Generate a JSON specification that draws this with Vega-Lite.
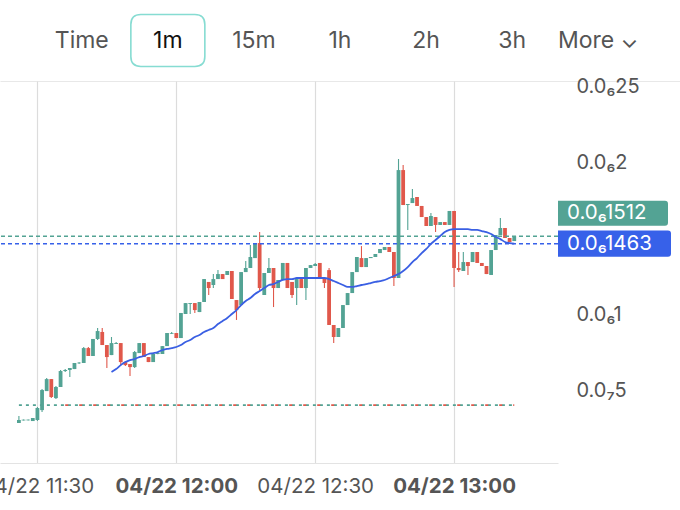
{
  "$schema": "https://vega.github.io/schema/vega-lite/v6.json",
  "autosize": {"type": "none"},
  "padding": {"left": 0, "top": 0, "right": 680, "bottom": 510},
  "background": "white",
  "config": {"font": "Inter", "view": {"stroke": null}},
  "spacing": 0,
  "bounds": "flush",
  "datasets": {
    "buttons": [
      {"label": "Time"}, {"label": "1m"}, {"label": "15m"}, {"label": "1h"},
      {"label": "2h"}, {"label": "3h"}, {"label": "More ⌄"}
    ],
    "levels": [
      {"name": "last", "price": 1.512, "label": "0.0₆1512"},
      {"name": "ma", "price": 1.463, "label": "0.0₆1463"}
    ],
    "baseline": [
      {"start": "2024-04-22T11:26", "end": "2024-04-22T13:13", "redstart": "2024-04-22T11:36", "price": 0.401}
    ],
    "candles": [
      {"t": "2024-04-22T11:26", "o": 0.283, "h": 0.329, "l": 0.283, "c": 0.303},
      {"t": "2024-04-22T11:27", "o": 0.300, "h": 0.306, "l": 0.300, "c": 0.305},
      {"t": "2024-04-22T11:28", "o": 0.301, "h": 0.306, "l": 0.300, "c": 0.305},
      {"t": "2024-04-22T11:29", "o": 0.296, "h": 0.316, "l": 0.296, "c": 0.316},
      {"t": "2024-04-22T11:30", "o": 0.303, "h": 0.388, "l": 0.296, "c": 0.382},
      {"t": "2024-04-22T11:31", "o": 0.368, "h": 0.507, "l": 0.355, "c": 0.500},
      {"t": "2024-04-22T11:32", "o": 0.493, "h": 0.579, "l": 0.493, "c": 0.572},
      {"t": "2024-04-22T11:33", "o": 0.572, "h": 0.572, "l": 0.447, "c": 0.454},
      {"t": "2024-04-22T11:34", "o": 0.447, "h": 0.526, "l": 0.441, "c": 0.520},
      {"t": "2024-04-22T11:35", "o": 0.520, "h": 0.632, "l": 0.520, "c": 0.625},
      {"t": "2024-04-22T11:36", "o": 0.625, "h": 0.638, "l": 0.618, "c": 0.632},
      {"t": "2024-04-22T11:37", "o": 0.632, "h": 0.645, "l": 0.586, "c": 0.645},
      {"t": "2024-04-22T11:38", "o": 0.638, "h": 0.678, "l": 0.638, "c": 0.678},
      {"t": "2024-04-22T11:39", "o": 0.676, "h": 0.684, "l": 0.671, "c": 0.680},
      {"t": "2024-04-22T11:40", "o": 0.678, "h": 0.783, "l": 0.678, "c": 0.776},
      {"t": "2024-04-22T11:41", "o": 0.776, "h": 0.783, "l": 0.724, "c": 0.724},
      {"t": "2024-04-22T11:42", "o": 0.724, "h": 0.836, "l": 0.724, "c": 0.836},
      {"t": "2024-04-22T11:43", "o": 0.836, "h": 0.908, "l": 0.829, "c": 0.888},
      {"t": "2024-04-22T11:44", "o": 0.882, "h": 0.908, "l": 0.796, "c": 0.796},
      {"t": "2024-04-22T11:45", "o": 0.796, "h": 0.796, "l": 0.645, "c": 0.717},
      {"t": "2024-04-22T11:46", "o": 0.730, "h": 0.849, "l": 0.730, "c": 0.809, "ma": 0.618},
      {"t": "2024-04-22T11:47", "o": 0.803, "h": 0.816, "l": 0.803, "c": 0.809, "ma": 0.638},
      {"t": "2024-04-22T11:48", "o": 0.809, "h": 0.809, "l": 0.664, "c": 0.684, "ma": 0.664},
      {"t": "2024-04-22T11:49", "o": 0.684, "h": 0.691, "l": 0.658, "c": 0.664, "ma": 0.684},
      {"t": "2024-04-22T11:50", "o": 0.671, "h": 0.671, "l": 0.592, "c": 0.651, "ma": 0.697},
      {"t": "2024-04-22T11:51", "o": 0.651, "h": 0.757, "l": 0.645, "c": 0.750, "ma": 0.704},
      {"t": "2024-04-22T11:52", "o": 0.743, "h": 0.809, "l": 0.743, "c": 0.809, "ma": 0.717},
      {"t": "2024-04-22T11:53", "o": 0.809, "h": 0.809, "l": 0.717, "c": 0.717, "ma": 0.724},
      {"t": "2024-04-22T11:54", "o": 0.717, "h": 0.717, "l": 0.684, "c": 0.684, "ma": 0.737},
      {"t": "2024-04-22T11:55", "o": 0.684, "h": 0.737, "l": 0.684, "c": 0.737, "ma": 0.743},
      {"t": "2024-04-22T11:56", "o": 0.737, "h": 0.745, "l": 0.735, "c": 0.743, "ma": 0.750},
      {"t": "2024-04-22T11:57", "o": 0.737, "h": 0.789, "l": 0.737, "c": 0.789, "ma": 0.763},
      {"t": "2024-04-22T11:58", "o": 0.789, "h": 0.875, "l": 0.789, "c": 0.875, "ma": 0.770},
      {"t": "2024-04-22T11:59", "o": 0.870, "h": 0.882, "l": 0.868, "c": 0.875, "ma": 0.776},
      {"t": "2024-04-22T12:00", "o": 0.875, "h": 0.875, "l": 0.842, "c": 0.842, "ma": 0.783},
      {"t": "2024-04-22T12:01", "o": 0.842, "h": 1.007, "l": 0.842, "c": 1.007, "ma": 0.796},
      {"t": "2024-04-22T12:02", "o": 1.000, "h": 1.072, "l": 1.000, "c": 1.072, "ma": 0.816},
      {"t": "2024-04-22T12:03", "o": 1.066, "h": 1.072, "l": 1.000, "c": 1.072, "ma": 0.829},
      {"t": "2024-04-22T12:04", "o": 1.072, "h": 1.072, "l": 1.007, "c": 1.026, "ma": 0.849},
      {"t": "2024-04-22T12:05", "o": 1.013, "h": 1.079, "l": 1.013, "c": 1.079, "ma": 0.862},
      {"t": "2024-04-22T12:06", "o": 1.079, "h": 1.230, "l": 1.079, "c": 1.230, "ma": 0.882},
      {"t": "2024-04-22T12:07", "o": 1.211, "h": 1.211, "l": 1.125, "c": 1.171, "ma": 0.895},
      {"t": "2024-04-22T12:08", "o": 1.191, "h": 1.263, "l": 1.171, "c": 1.230, "ma": 0.908},
      {"t": "2024-04-22T12:09", "o": 1.230, "h": 1.289, "l": 1.230, "c": 1.263, "ma": 0.934},
      {"t": "2024-04-22T12:10", "o": 1.263, "h": 1.263, "l": 1.230, "c": 1.230, "ma": 0.954},
      {"t": "2024-04-22T12:11", "o": 1.257, "h": 1.283, "l": 1.257, "c": 1.283, "ma": 0.974},
      {"t": "2024-04-22T12:12", "o": 1.283, "h": 1.283, "l": 1.099, "c": 1.099, "ma": 1.000},
      {"t": "2024-04-22T12:13", "o": 1.092, "h": 1.092, "l": 0.961, "c": 1.026, "ma": 1.026},
      {"t": "2024-04-22T12:14", "o": 1.059, "h": 1.276, "l": 1.059, "c": 1.276, "ma": 1.059},
      {"t": "2024-04-22T12:15", "o": 1.276, "h": 1.349, "l": 1.276, "c": 1.303, "ma": 1.086},
      {"t": "2024-04-22T12:16", "o": 1.303, "h": 1.454, "l": 1.303, "c": 1.375, "ma": 1.105},
      {"t": "2024-04-22T12:17", "o": 1.368, "h": 1.467, "l": 1.368, "c": 1.467, "ma": 1.132},
      {"t": "2024-04-22T12:18", "o": 1.467, "h": 1.539, "l": 1.158, "c": 1.171, "ma": 1.151},
      {"t": "2024-04-22T12:19", "o": 1.125, "h": 1.270, "l": 1.125, "c": 1.270, "ma": 1.171},
      {"t": "2024-04-22T12:20", "o": 1.270, "h": 1.368, "l": 1.270, "c": 1.303, "ma": 1.191},
      {"t": "2024-04-22T12:21", "o": 1.303, "h": 1.303, "l": 1.046, "c": 1.171, "ma": 1.197},
      {"t": "2024-04-22T12:22", "o": 1.171, "h": 1.224, "l": 1.171, "c": 1.224, "ma": 1.211},
      {"t": "2024-04-22T12:23", "o": 1.224, "h": 1.336, "l": 1.224, "c": 1.336, "ma": 1.224},
      {"t": "2024-04-22T12:24", "o": 1.336, "h": 1.336, "l": 1.171, "c": 1.171, "ma": 1.230},
      {"t": "2024-04-22T12:25", "o": 1.211, "h": 1.211, "l": 1.105, "c": 1.125, "ma": 1.230},
      {"t": "2024-04-22T12:26", "o": 1.171, "h": 1.230, "l": 1.059, "c": 1.230, "ma": 1.237},
      {"t": "2024-04-22T12:27", "o": 1.230, "h": 1.230, "l": 1.171, "c": 1.171, "ma": 1.237},
      {"t": "2024-04-22T12:28", "o": 1.171, "h": 1.303, "l": 1.092, "c": 1.303, "ma": 1.237},
      {"t": "2024-04-22T12:29", "o": 1.303, "h": 1.322, "l": 1.303, "c": 1.322, "ma": 1.237},
      {"t": "2024-04-22T12:30", "o": 1.316, "h": 1.336, "l": 1.316, "c": 1.329, "ma": 1.237},
      {"t": "2024-04-22T12:31", "o": 1.336, "h": 1.336, "l": 1.237, "c": 1.237, "ma": 1.237},
      {"t": "2024-04-22T12:32", "o": 1.237, "h": 1.237, "l": 1.171, "c": 1.204, "ma": 1.237},
      {"t": "2024-04-22T12:33", "o": 1.289, "h": 1.303, "l": 0.928, "c": 0.928, "ma": 1.230},
      {"t": "2024-04-22T12:34", "o": 0.928, "h": 0.928, "l": 0.809, "c": 0.849, "ma": 1.217},
      {"t": "2024-04-22T12:35", "o": 0.849, "h": 0.908, "l": 0.849, "c": 0.908, "ma": 1.204},
      {"t": "2024-04-22T12:36", "o": 0.908, "h": 1.059, "l": 0.908, "c": 1.059, "ma": 1.191},
      {"t": "2024-04-22T12:37", "o": 1.059, "h": 1.138, "l": 1.059, "c": 1.138, "ma": 1.178},
      {"t": "2024-04-22T12:38", "o": 1.138, "h": 1.276, "l": 1.138, "c": 1.276, "ma": 1.178},
      {"t": "2024-04-22T12:39", "o": 1.276, "h": 1.375, "l": 1.276, "c": 1.375, "ma": 1.184},
      {"t": "2024-04-22T12:40", "o": 1.368, "h": 1.447, "l": 1.309, "c": 1.309, "ma": 1.191},
      {"t": "2024-04-22T12:41", "o": 1.309, "h": 1.368, "l": 1.309, "c": 1.368, "ma": 1.197},
      {"t": "2024-04-22T12:42", "o": 1.368, "h": 1.375, "l": 1.368, "c": 1.375, "ma": 1.204},
      {"t": "2024-04-22T12:43", "o": 1.375, "h": 1.395, "l": 1.375, "c": 1.395, "ma": 1.211},
      {"t": "2024-04-22T12:44", "o": 1.401, "h": 1.428, "l": 1.401, "c": 1.428, "ma": 1.217},
      {"t": "2024-04-22T12:45", "o": 1.421, "h": 1.441, "l": 1.421, "c": 1.441, "ma": 1.224},
      {"t": "2024-04-22T12:46", "o": 1.441, "h": 1.441, "l": 1.408, "c": 1.408, "ma": 1.237},
      {"t": "2024-04-22T12:47", "o": 1.408, "h": 1.408, "l": 1.184, "c": 1.237, "ma": 1.250},
      {"t": "2024-04-22T12:48", "o": 1.237, "h": 2.020, "l": 1.237, "c": 1.947, "ma": 1.263},
      {"t": "2024-04-22T12:49", "o": 1.947, "h": 1.980, "l": 1.717, "c": 1.717, "ma": 1.283},
      {"t": "2024-04-22T12:50", "o": 1.717, "h": 1.724, "l": 1.553, "c": 1.724, "ma": 1.309},
      {"t": "2024-04-22T12:51", "o": 1.730, "h": 1.822, "l": 1.730, "c": 1.763, "ma": 1.342},
      {"t": "2024-04-22T12:52", "o": 1.770, "h": 1.770, "l": 1.711, "c": 1.711, "ma": 1.368},
      {"t": "2024-04-22T12:53", "o": 1.711, "h": 1.711, "l": 1.638, "c": 1.638, "ma": 1.401},
      {"t": "2024-04-22T12:54", "o": 1.638, "h": 1.638, "l": 1.579, "c": 1.579, "ma": 1.428},
      {"t": "2024-04-22T12:55", "o": 1.579, "h": 1.664, "l": 1.579, "c": 1.645, "ma": 1.461},
      {"t": "2024-04-22T12:56", "o": 1.638, "h": 1.638, "l": 1.539, "c": 1.586, "ma": 1.487},
      {"t": "2024-04-22T12:57", "o": 1.586, "h": 1.605, "l": 1.586, "c": 1.605, "ma": 1.513},
      {"t": "2024-04-22T12:58", "o": 1.605, "h": 1.605, "l": 1.586, "c": 1.586, "ma": 1.539},
      {"t": "2024-04-22T12:59", "o": 1.586, "h": 1.678, "l": 1.586, "c": 1.678, "ma": 1.553},
      {"t": "2024-04-22T13:00", "o": 1.678, "h": 1.678, "l": 1.178, "c": 1.303, "ma": 1.559},
      {"t": "2024-04-22T13:01", "o": 1.303, "h": 1.408, "l": 1.276, "c": 1.289, "ma": 1.559},
      {"t": "2024-04-22T13:02", "o": 1.283, "h": 1.408, "l": 1.283, "c": 1.342, "ma": 1.559},
      {"t": "2024-04-22T13:03", "o": 1.342, "h": 1.342, "l": 1.257, "c": 1.316, "ma": 1.559},
      {"t": "2024-04-22T13:04", "o": 1.342, "h": 1.408, "l": 1.342, "c": 1.408, "ma": 1.553},
      {"t": "2024-04-22T13:05", "o": 1.408, "h": 1.408, "l": 1.336, "c": 1.336, "ma": 1.553},
      {"t": "2024-04-22T13:06", "o": 1.336, "h": 1.336, "l": 1.316, "c": 1.316, "ma": 1.546},
      {"t": "2024-04-22T13:07", "o": 1.316, "h": 1.316, "l": 1.263, "c": 1.263, "ma": 1.539},
      {"t": "2024-04-22T13:08", "o": 1.257, "h": 1.421, "l": 1.257, "c": 1.421, "ma": 1.526},
      {"t": "2024-04-22T13:09", "o": 1.421, "h": 1.520, "l": 1.421, "c": 1.520, "ma": 1.507},
      {"t": "2024-04-22T13:10", "o": 1.520, "h": 1.632, "l": 1.520, "c": 1.566, "ma": 1.493},
      {"t": "2024-04-22T13:11", "o": 1.566, "h": 1.566, "l": 1.500, "c": 1.500, "ma": 1.474},
      {"t": "2024-04-22T13:12", "o": 1.500, "h": 1.500, "l": 1.474, "c": 1.474, "ma": 1.467},
      {"t": "2024-04-22T13:13", "o": 1.480, "h": 1.512, "l": 1.480, "c": 1.512, "ma": 1.463}
    ]
  },
  "vconcat": [
    {
      "width": 680,
      "height": 81,
      "data": {"name": "buttons"},
      "encoding": {
        "x": {
          "field": "label",
          "type": "nominal",
          "sort": null,
          "scale": {"type": "point", "padding": 0.95, "domain": ["Time", "1m", "15m", "1h", "2h", "3h", "More ⌄"]},
          "axis": {"labels": false, "ticks": false, "title": null, "domainColor": "#e8e8e8", "domainWidth": 1.2}
        }
      },
      "layer": [
        {
          "transform": [{"filter": "datum.label === '1m'"}],
          "mark": {
            "type": "point",
            "shape": "M-0.73,-0.703 L0.73,-0.703 Q1,-0.703 1,-0.433 L1,0.433 Q1,0.703 0.73,0.703 L-0.73,0.703 Q-1,0.703 -1,0.433 L-1,-0.433 Q-1,-0.703 -0.73,-0.703 Z",
            "size": 5476,
            "filled": false,
            "stroke": "#86dcd2",
            "strokeWidth": 1.6,
            "opacity": 1
          }
        },
        {
          "mark": {"type": "text", "fontSize": 23, "baseline": "middle"},
          "encoding": {
            "text": {"field": "label"},
            "color": {"condition": {"test": "datum.label === '1m'", "value": "#111111"}, "value": "#555555"}
          }
        }
      ]
    },
    {
      "width": 558,
      "height": 382,
      "layer": [
        {
          "data": {"name": "candles"},
          "mark": {"type": "rule", "strokeWidth": 1.1},
          "encoding": {
            "x": {
              "field": "t",
              "type": "temporal",
              "title": null,
              "scale": {
                "domain": [
                  {"year": 2024, "month": 4, "date": 22, "hours": 11, "minutes": 21, "seconds": 55},
                  {"year": 2024, "month": 4, "date": 22, "hours": 13, "minutes": 22, "seconds": 27}
                ],
                "nice": false,
                "padding": 0
              },
              "axis": {
                "values": [
                  {"year": 2024, "month": 4, "date": 22, "hours": 11, "minutes": 30},
                  {"year": 2024, "month": 4, "date": 22, "hours": 12, "minutes": 0},
                  {"year": 2024, "month": 4, "date": 22, "hours": 12, "minutes": 30},
                  {"year": 2024, "month": 4, "date": 22, "hours": 13, "minutes": 0}
                ],
                "labelExpr": "timeFormat(datum.value, '%m/%d %H:%M')",
                "labelFontWeight": {"condition": {"test": "minutes(datum.value) === 0", "value": "bold"}, "value": "normal"},
                "grid": true,
                "gridColor": "#dcdcdc",
                "gridWidth": 1.2,
                "ticks": false,
                "domainColor": "#e3e3e3",
                "labelPadding": 13,
                "labelFontSize": 20.5,
                "labelColor": "#555555",
                "labelFlush": false,
                "labelOverlap": false
              }
            },
            "y": {
              "field": "l",
              "type": "quantitative",
              "title": null,
              "scale": {"domain": [0.02, 2.533], "nice": false, "zero": false, "padding": 0},
              "axis": {
                "orient": "right",
                "values": [0.5, 1, 2, 2.5],
                "labelExpr": "datum.value >= 1 ? '0.0₆' + replace(toString(datum.value), '.', '') : '0.0₇' + toString(round(datum.value * 10))",
                "grid": false,
                "ticks": false,
                "domain": false,
                "labelPadding": 18,
                "labelFontSize": 20,
                "labelColor": "#555555",
                "labelAlign": "left"
              }
            },
            "y2": {"field": "h"},
            "color": {"condition": {"test": "datum.c >= datum.o", "value": "#53a394"}, "value": "#e0584b"}
          }
        },
        {
          "data": {"name": "candles"},
          "mark": {"type": "bar", "width": 3.8},
          "encoding": {
            "x": {"field": "t", "type": "temporal", "title": null},
            "y": {"field": "o", "type": "quantitative", "title": null},
            "y2": {"field": "c"},
            "color": {"condition": {"test": "datum.c >= datum.o", "value": "#53a394"}, "value": "#e0584b"}
          }
        },
        {
          "data": {"name": "levels"},
          "mark": {"type": "rule", "strokeDash": [4, 3], "strokeWidth": 1.5},
          "encoding": {
            "y": {"field": "price", "type": "quantitative", "title": null},
            "color": {"condition": {"test": "datum.name === 'last'", "value": "#53a394"}, "value": "#3761e9"}
          }
        },
        {
          "data": {"name": "baseline"},
          "mark": {"type": "rule", "strokeDash": [3, 4], "strokeWidth": 1.6, "color": "#53a394"},
          "encoding": {
            "x": {"field": "start", "type": "temporal", "title": null},
            "x2": {"field": "end"},
            "y": {"field": "price", "type": "quantitative", "title": null}
          }
        },
        {
          "data": {"name": "baseline"},
          "mark": {"type": "rule", "strokeDash": [3, 11], "strokeWidth": 1.6, "color": "#e0584b"},
          "encoding": {
            "x": {"field": "redstart", "type": "temporal", "title": null},
            "x2": {"field": "end"},
            "y": {"field": "price", "type": "quantitative", "title": null}
          }
        },
        {
          "data": {"name": "candles"},
          "transform": [{"filter": "isValid(datum.ma)"}],
          "mark": {"type": "line", "color": "#3a5fe3", "strokeWidth": 1.8, "interpolate": "monotone"},
          "encoding": {
            "x": {"field": "t", "type": "temporal", "title": null},
            "y": {"field": "ma", "type": "quantitative", "title": null}
          }
        },
        {
          "data": {"name": "levels"},
          "transform": [{"filter": "datum.name === 'ma'"}],
          "layer": [
            {
              "mark": {
                "type": "point",
                "shape": "M-1,-0.232 L0.946,-0.232 Q1,-0.232 1,-0.178 L1,0.178 Q1,0.232 0.946,0.232 L-1,0.232 Z",
                "size": 12769,
                "filled": true,
                "opacity": 1,
                "fill": "#3761e9",
                "xOffset": 56.5
              },
              "encoding": {
                "x": {"value": "width"},
                "y": {"field": "price", "type": "quantitative", "title": null}
              }
            },
            {
              "mark": {"type": "text", "align": "left", "baseline": "middle", "fontSize": 20.5, "color": "white", "xOffset": 9},
              "encoding": {
                "x": {"value": "width"},
                "y": {"field": "price", "type": "quantitative", "title": null},
                "text": {"field": "label"}
              }
            }
          ]
        },
        {
          "data": {"name": "levels"},
          "transform": [{"filter": "datum.name === 'last'"}],
          "layer": [
            {
              "mark": {
                "type": "point",
                "shape": "M-1,-0.227 L0.945,-0.227 Q1,-0.227 1,-0.172 L1,0.172 Q1,0.227 0.945,0.227 L-1,0.227 Z",
                "size": 12100,
                "filled": true,
                "opacity": 1,
                "fill": "#53a394",
                "xOffset": 55,
                "yOffset": -23
              },
              "encoding": {
                "x": {"value": "width"},
                "y": {"field": "price", "type": "quantitative", "title": null}
              }
            },
            {
              "mark": {"type": "text", "align": "left", "baseline": "middle", "fontSize": 20.5, "color": "white", "xOffset": 9, "yOffset": -23},
              "encoding": {
                "x": {"value": "width"},
                "y": {"field": "price", "type": "quantitative", "title": null},
                "text": {"field": "label"}
              }
            }
          ]
        }
      ]
    }
  ]
}
